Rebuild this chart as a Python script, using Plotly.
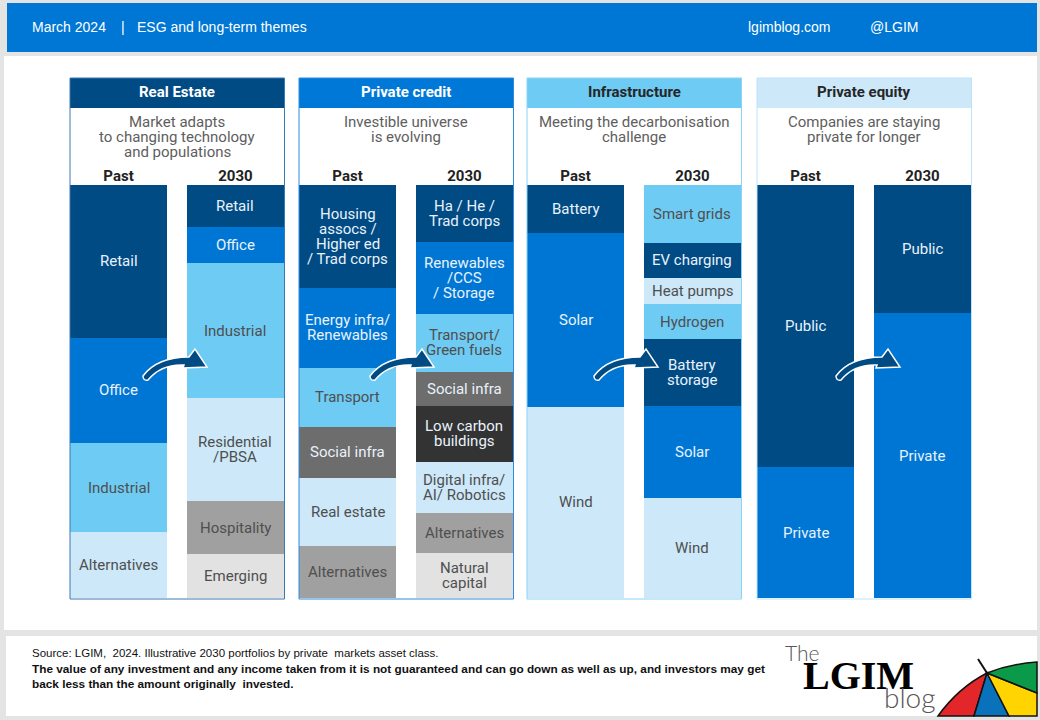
import plotly.graph_objects as go

W, H = 1040, 720

# ---------------- data ----------------
periods = ["Past", "2030"]
panel_titles = ["Real Estate", "Private credit", "Infrastructure", "Private equity"]
panel_subtitles = [
    ["Market adapts", "to changing technology", "and populations"],
    ["Investible universe", "is evolving"],
    ["Meeting the decarbonisation", "challenge"],
    ["Companies are staying", "private for longer"],
]

re_past_labels = ["Retail", "Office", "Industrial", "Alternatives"]
re_past_values = [37.0, 25.4, 21.7, 15.9]
re_2030_labels = ["Retail", "Office", "Industrial", "Residential\n/PBSA", "Hospitality", "Emerging"]
re_2030_values = [10.1, 8.9, 32.5, 25.1, 12.8, 10.6]

pc_past_labels = ["Housing\nassocs /\nHigher ed\n/ Trad corps", "Energy infra/\nRenewables", "Transport",
                  "Social infra", "Real estate", "Alternatives"]
pc_past_values = [24.9, 19.4, 14.3, 12.3, 16.5, 12.6]
pc_2030_labels = ["Ha / He /\nTrad corps", "Renewables\n/CCS\n/ Storage", "Transport/\nGreen fuels", "Social infra",
                  "Low carbon\nbuildings", "Digital infra/\nAI/ Robotics", "Alternatives", "Natural\ncapital"]
pc_2030_values = [13.8, 17.4, 14.0, 8.2, 13.6, 12.3, 9.9, 10.8]

in_past_labels = ["Battery", "Solar", "Wind"]
in_past_values = [11.6, 42.1, 46.3]
in_2030_labels = ["Smart grids", "EV charging", "Heat pumps", "Hydrogen", "Battery\nstorage", "Solar", "Wind"]
in_2030_values = [14.0, 8.5, 6.3, 8.5, 16.2, 22.3, 24.2]

pe_past_labels = ["Public", "Private"]
pe_past_values = [68.3, 31.7]
pe_2030_labels = ["Public", "Private"]
pe_2030_values = [31.0, 69.0]

# ---------------- styles ----------------
NAVY = "#004B84"
BLUE = "#0076D4"
LIGHT = "#6ECBF4"
PALE = "#CCE8F9"
GREY = "#A0A0A0"
LGREY = "#E2E2E2"
DGREY = "#6D6D6D"
CHAR = "#333333"
DARK_FILLS = {NAVY, BLUE, DGREY, CHAR}

re_past_colors = [NAVY, BLUE, LIGHT, PALE]
re_2030_colors = [NAVY, BLUE, LIGHT, PALE, GREY, LGREY]
pc_past_colors = [NAVY, BLUE, LIGHT, DGREY, PALE, GREY]
pc_2030_colors = [NAVY, BLUE, LIGHT, DGREY, CHAR, PALE, GREY, LGREY]
in_past_colors = [NAVY, BLUE, PALE]
in_2030_colors = [LIGHT, NAVY, PALE, LIGHT, NAVY, BLUE, PALE]
pe_past_colors = [NAVY, BLUE]
pe_2030_colors = [NAVY, BLUE]

panels = [
    [(re_past_labels, re_past_values, re_past_colors), (re_2030_labels, re_2030_values, re_2030_colors)],
    [(pc_past_labels, pc_past_values, pc_past_colors), (pc_2030_labels, pc_2030_values, pc_2030_colors)],
    [(in_past_labels, in_past_values, in_past_colors), (in_2030_labels, in_2030_values, in_2030_colors)],
    [(pe_past_labels, pe_past_values, pe_past_colors), (pe_2030_labels, pe_2030_values, pe_2030_colors)],
]

header_fill = [NAVY, "#0078D7", LIGHT, PALE]
header_text = ["#FFFFFF", "#FFFFFF", "#262626", "#262626"]
frame_color = ["#3C78B4", "#2D8BE0", "#8AD3F5", "#BFE2F7"]

panel_left = [70, 299, 527, 757]
panel_w = 214
bar_top, bar_bottom = 185, 598
tail_x = [143, 370, 594, 836]
tail_y = 378

FONT = "Roboto, Open Sans, sans-serif"
NARROW = "Liberation Sans Narrow, Arial Narrow, Liberation Sans, sans-serif"


def px(x):
    return x / W


def py(y):
    return 1 - y / H


fig = go.Figure()
annotations = []
shapes = []

# background panels
shapes.append(dict(type="rect", xref="paper", yref="paper", x0=px(4), x1=px(1037), y0=py(630), y1=py(56),
                   fillcolor="white", line_width=0, layer="below"))
shapes.append(dict(type="rect", xref="paper", yref="paper", x0=px(6), x1=px(1037), y0=py(716), y1=py(636),
                   fillcolor="white", line_width=0, layer="below"))
shapes.append(dict(type="rect", xref="paper", yref="paper", x0=px(7), x1=px(1037), y0=py(52), y1=py(3),
                   fillcolor="#0077D5", line_width=0, layer="below"))

layout_axes = {}
for i, (cols, title, subs) in enumerate(zip(panels, panel_titles, panel_subtitles)):
    ax = "" if i == 0 else str(i + 1)
    xname = "x" + ax
    L = panel_left[i]
    layout_axes["xaxis" + ax] = dict(
        domain=[px(L), px(L + panel_w)], range=[-0.415, 1.415], anchor="y", side="top",
        tickmode="array", tickvals=[0, 1], ticktext=["<b>%s</b>" % p for p in periods],
        tickfont=dict(family=FONT, size=15, color="#222222"), showgrid=False, zeroline=False,
        showline=False, ticks="", fixedrange=True,
    )
    for j, (labels, values, colors) in enumerate(cols):
        cum = 0.0
        for lab, val, col in zip(labels, values, colors):
            fig.add_trace(go.Bar(x=[j], y=[val], width=0.83, marker=dict(color=col, line_width=0),
                                 xaxis=xname, yaxis="y", showlegend=False, hoverinfo="skip"))
            mid = cum + val / 2
            cum += val
            lines = lab.split("\n")
            n = len(lines)
            tcol = "#E9F2FB" if col in DARK_FILLS else "#4F4F4F"
            for k, line in enumerate(lines):
                annotations.append(dict(x=j, y=mid, xref=xname, yref="y", text=line, showarrow=False,
                                        yshift=((n - 1) / 2 - k) * 15, xanchor="center", yanchor="middle",
                                        font=dict(family=FONT, size=15, color=tcol)))
    # header
    shapes.append(dict(type="rect", xref="paper", yref="paper", x0=px(L), x1=px(L + panel_w + 0.5),
                       y0=py(108), y1=py(78), fillcolor=header_fill[i], line_width=0, layer="below"))
    annotations.append(dict(x=px(L + panel_w / 2), y=py(92), xref="paper", yref="paper", text="<b>%s</b>" % title,
                            showarrow=False, xanchor="center", yanchor="middle",
                            font=dict(family=FONT, size=15, color=header_text[i])))
    for k, s in enumerate(subs):
        annotations.append(dict(x=px(L + panel_w / 2), y=py(122 + 15 * k), xref="paper", yref="paper", text=s,
                                showarrow=False, xanchor="center", yanchor="middle",
                                font=dict(family=FONT, size=15, color="#5E5E5E")))
    # frame
    shapes.append(dict(type="rect", xref="paper", yref="paper", x0=px(L), x1=px(L + panel_w + 0.5),
                       y0=py(599), y1=py(78), line=dict(color=frame_color[i], width=1), layer="above"))
    # arrow
    tx = tail_x[i]
    loc = [("M", [(0, -2)]), ("Q", [(14, -21), (46, -21)]), ("L", [(52, -29)]), ("L", [(64, -11)]),
           ("L", [(40, -10)]), ("L", [(41, -13)]), ("Q", [(18, -14), (5, 2)]), ("Q", [(0, 3), (0, -2)])]
    path = ""
    for cmd, pts in loc:
        path += cmd + " " + " ".join("%.5f,%.5f" % (px(tx + a), py(tail_y + b)) for a, b in pts) + " "
    path += "Z"
    shapes.append(dict(type="path", xref="paper", yref="paper", path=path, fillcolor=NAVY,
                       line=dict(color="white", width=1.5), layer="above"))

# header bar texts
for txt, x in [("March 2024", 30), ("|", 119), ("ESG and long-term themes", 135), ("lgimblog.com", 746),
               ("@LGIM", 868)]:
    annotations.append(dict(x=px(x), y=py(27), xref="paper", yref="paper", text=txt, showarrow=False,
                            xanchor="left", yanchor="middle", font=dict(family=NARROW, size=14, color="white")))

# footer
annotations.append(dict(x=px(30), y=py(653), xref="paper", yref="paper",
                        text="Source: LGIM,  2024. Illustrative 2030 portfolios by private  markets asset class.",
                        showarrow=False, xanchor="left", yanchor="middle",
                        font=dict(family=NARROW, size=11.5, color="#111111")))
annotations.append(dict(x=px(30), y=py(669), xref="paper", yref="paper",
                        text="<b>The value of any investment and any income taken from it is not guaranteed and can go down as well as up, and investors may get</b>",
                        showarrow=False, xanchor="left", yanchor="middle",
                        font=dict(family=NARROW, size=11.8, color="#111111")))
annotations.append(dict(x=px(30), y=py(684), xref="paper", yref="paper",
                        text="<b>back less than the amount originally  invested.</b>",
                        showarrow=False, xanchor="left", yanchor="middle",
                        font=dict(family=NARROW, size=11.8, color="#111111")))

# logo text
annotations.append(dict(x=px(783), y=py(652), xref="paper", yref="paper", text="The", showarrow=False,
                        xanchor="left", yanchor="middle",
                        font=dict(family="Lato, sans-serif", size=21, color="#555555", weight=300)))
annotations.append(dict(x=px(801), y=py(675), xref="paper", yref="paper", text="<b>LGIM</b>", showarrow=False,
                        xanchor="left", yanchor="middle",
                        font=dict(family="Liberation Serif, DejaVu Serif, serif", size=40, color="#000000")))
annotations.append(dict(x=px(882), y=py(697), xref="paper", yref="paper", text="blog", showarrow=False,
                        xanchor="left", yanchor="middle",
                        font=dict(family="Lato, sans-serif", size=28, color="#555555", weight=300)))


# umbrella
def ppath(cmds):
    s = ""
    for cmd, pts in cmds:
        s += cmd + " " + " ".join("%.5f,%.5f" % (px(a), py(b)) for a, b in pts) + " "
    return s + "Z"


apex = (987, 673)
wedges = [
    ("#E3262A", [("M", [apex]), ("L", [(974, 716)]), ("L", [(938, 716)]), ("Q", [(958, 688), apex])]),
    ("#0A72BA", [("M", [apex]), ("L", [(1009, 716)]), ("L", [(974, 716)])]),
    ("#FFD400", [("M", [apex]), ("L", [(1037, 693)]), ("L", [(1037, 716)]), ("L", [(1009, 716)])]),
    ("#0B9A4A", [("M", [apex]), ("Q", [(1010, 664), (1037, 662)]), ("L", [(1037, 693)])]),
]
for col, cmds in wedges:
    shapes.append(dict(type="path", xref="paper", yref="paper", path=ppath(cmds), fillcolor=col,
                       line=dict(color="#111111", width=1.5), layer="above"))
shapes.append(dict(type="line", xref="paper", yref="paper", x0=px(978), y0=py(659), x1=px(apex[0]),
                   y1=py(apex[1]), line=dict(color="#111111", width=2)))

fig.update_layout(
    width=W, height=H, margin=dict(l=0, r=0, t=0, b=0),
    paper_bgcolor="#E4E4E4", plot_bgcolor="rgba(0,0,0,0)",
    barmode="stack", hovermode=False, showlegend=False,
    yaxis=dict(domain=[py(bar_bottom), py(bar_top)], range=[100, 0], visible=False, fixedrange=True),
    annotations=annotations, shapes=shapes,
    **layout_axes,
)

fig.write_html("out.html", config={"displayModeBar": False},
               post_script="document.body.style.margin='0';document.body.style.overflow='hidden';")
